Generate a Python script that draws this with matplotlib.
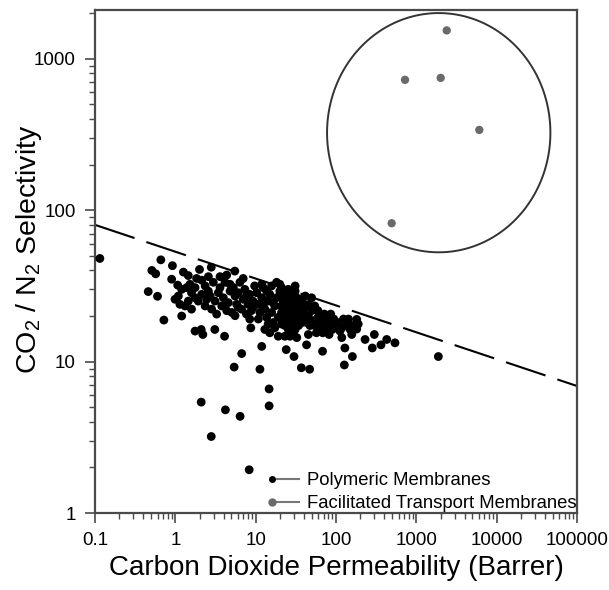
import numpy as np
import matplotlib
matplotlib.use("Agg")
import matplotlib.pyplot as plt
from matplotlib.lines import Line2D
from matplotlib.legend_handler import HandlerBase
from matplotlib.ticker import LogLocator, FixedLocator, FixedFormatter, NullFormatter

plt.rcParams['font.family'] = ['Liberation Sans', 'DejaVu Sans']
plt.rcParams['mathtext.fontset'] = 'custom'
plt.rcParams['mathtext.rm'] = 'Liberation Sans'
plt.rcParams['mathtext.it'] = 'Liberation Sans'

# ---------------- data ----------------
poly_perm = [
    0.115, 0.66, 0.92, 0.51, 0.57, 0.46, 0.60, 0.72, 1.2, 0.90, 1.07, 1.26, 1.45,
    2.0, 2.8, 5.5, 1.76, 2.1, 2.2, 3.1, 4.1, 6.7, 5.4, 11.3, 11.9, 8.7, 14.7, 14.7,
    2.1, 4.2, 6.4, 2.8, 8.3, 30, 24, 37, 47, 43, 68, 127, 160, 129, 118,
    230, 300, 283, 363, 428, 542, 181, 181, 1880, 45, 21, 25.5,
    # x ~ 1-2
    0.99, 1.09, 1.20, 1.38, 1.52, 1.59, 1.76, 1.93, 1.14, 1.32, 1.59, 1.84, 2.13, 1.76, 1.45,
    # x ~ 2-5
    2.35, 2.58, 2.71, 2.97, 3.12, 3.43, 3.6, 3.78, 3.96, 4.15, 4.36, 4.57, 4.8, 2.35, 2.83,
    3.27, 2.58, 3.6, 4.36, 4.8, 5.04, 2.13, 2.46,
    # x ~ 5-10
    5.28, 5.54, 5.8, 6.08, 6.37, 6.67, 6.99, 7.33, 7.68, 8.05, 8.44, 8.84, 9.27, 9.71,
    5.54, 6.99, 6.08, 8.44, 7.68, 9.27,
    # x ~ 10-20
    10.3, 10.8, 11.3, 11.9, 12.4, 13.0, 13.7, 14.3, 15.0, 15.8, 16.5, 17.3, 18.2, 19.1, 20.0,
    10.8, 13.0, 15.0, 17.3, 19.1, 11.9, 15.8, 18.2, 13.7, 16.5, 14.3, 12.4,
    # x ~ 20-40
    21.0, 22.0, 23.1, 24.3, 25.5, 26.8, 28.1, 29.5, 31.0, 32.5, 34.2, 35.9, 37.6, 21.0, 22.0,
    23.1, 25.5, 28.1, 31.0, 34.2, 37.6, 24.3, 28.1, 32.5, 23.1, 26.8, 29.5, 31.0, 35.9, 22.0,
    25.5, 28.1, 34.2, 39.5, 21.0, 24.3, 29.5, 32.5, 26.8, 23.1, 37.6, 31.0, 25.5, 22.0, 34.2,
    39.5, 21.0, 28.1, 24.3, 31.0,
    # x ~ 40-100
    41.4, 45.3, 49.7, 52.0, 54.4, 59.6, 62.4, 65.3, 71.6, 74.9, 78.5, 86, 90, 94, 47.4,
    57.0, 68.4, 82, 49.7, 54.4, 59.6, 71.6, 78.5, 43.2, 94, 45.3, 86, 65.3,
    # x ~ 100-200
    107, 118, 136, 150, 164, 143, 124, 189, 112, 157,
    # upper edge
    20.0, 31.0, 41.4,
]
poly_sel = [
    48, 47, 43, 40, 38, 29, 27, 18.8, 20, 35, 32, 39, 37,
    40.6, 42, 39.6, 15.9, 16.3, 15.1, 16.3, 14.7, 11.3, 9.2, 8.9, 12.6, 16.7, 6.6, 5.1,
    5.4, 4.8, 4.35, 3.2, 1.93, 10.8, 12, 9.1, 8.9, 12.9, 11.7, 9.5, 10.8, 12.3, 14.4,
    14, 15.1, 12.3, 12.9, 14, 13.3, 19, 16.4, 10.8, 23.8, 30.8, 28.5,
    # x ~ 1-2
    25.8, 27.1, 30.0, 30.8, 32.4, 28.5, 26.4, 25.1, 23.9, 23.3, 22.2, 35.4, 34.5, 30.8, 25.1,
    # x ~ 2-5
    31.6, 29.2, 27.1, 33.4, 25.1, 28.5, 30.8, 23.3, 26.4, 33.4, 21.7, 24.5, 29.2, 23.3, 22.2,
    20.6, 36.4, 36.4, 37.3, 32.4, 21.1, 27.8, 25.8,
    # x ~ 5-10
    30.8, 27.1, 23.9, 28.5, 33.4, 22.2, 25.8, 30.0, 20.6, 23.9, 27.8, 21.7, 25.1, 31.6,
    20.1, 35.4, 22.8, 19.1, 27.1, 22.8,
    # x ~ 10-20
    28.5, 23.9, 21.1, 26.4, 30.8, 22.2, 19.6, 25.1, 27.8, 21.1, 18.1, 23.3, 26.4, 19.6, 29.2,
    19.1, 16.3, 15.5, 16.7, 14.7, 32.4, 31.6, 33.4, 29.2, 24.5, 17.7, 23.3,
    # x ~ 20-40
    27.1, 24.5, 22.2, 20.1, 25.8, 23.3, 21.1, 19.1, 24.5, 22.2, 20.1, 23.3, 21.1, 21.1, 18.6,
    17.3, 16.3, 17.7, 16.3, 17.3, 18.1, 28.5, 27.8, 26.4, 25.1, 20.6, 22.2, 20.1, 19.1, 21.7,
    22.8, 24.5, 25.1, 22.2, 23.3, 18.1, 15.1, 14.4, 14.7, 14.7, 25.8, 29.2, 30.0, 19.6, 21.7,
    19.6, 17.7, 19.6, 23.9, 18.1,
    # x ~ 40-100
    23.3, 20.1, 21.7, 18.6, 17.3, 19.6, 18.1, 16.3, 17.7, 19.1, 16.7, 18.1, 16.3, 17.3, 17.3,
    15.5, 15.5, 15.1, 26.4, 23.3, 21.7, 20.6, 19.6, 18.1, 19.1, 15.1, 20.6, 20.1,
    # x ~ 100-200
    18.1, 16.7, 17.7, 16.3, 17.3, 19.1, 19.1, 17.7, 15.9, 15.1,
    # upper edge
    32.4, 31.6, 27.1,
]

ftm_perm = [2390, 723, 2010, 6080, 493]
ftm_sel = [1540, 726, 748, 339, 82]

bound_perm = [0.1, 100000]
bound_sel = [80, 6.9]

# circle drawn around the facilitated transport data (log-space ellipse)
circle_center = (1900, 325)
circle_half_decades = (1.39, 0.79)

x_ticks = [0.1, 1, 10, 100, 1000, 10000, 100000]
x_tick_labels = ['0.1', '1', '10', '100', '1000', '10000', '100000']
y_ticks = [1, 10, 100, 1000]
y_tick_labels = ['1', '10', '100', '1000']

legend_labels = ['Polymeric Membranes', 'Facilitated Transport Membranes']

# ---------------- figure ----------------
fig = plt.figure(figsize=(6.09, 5.90), dpi=100)
ax = fig.add_axes([95 / 609, 77 / 590, 482 / 609, 503 / 590])
ax.set_xscale('log')
ax.set_yscale('log')
ax.set_xlim(0.1, 100000)
ax.set_ylim(1, 2100)

ax.plot(bound_perm, bound_sel, color='black', lw=1.5, dashes=(20, 6), zorder=2)

ax.scatter(poly_perm, poly_sel, s=40, color='black', edgecolors='none', zorder=3)
ax.scatter(ftm_perm, ftm_sel, s=36, color='#6a6a6a', edgecolors='none', zorder=3)

t = np.linspace(0, 2 * np.pi, 500, endpoint=False)
lx = np.log10(circle_center[0]) + circle_half_decades[0] * np.cos(t)
ly = np.log10(circle_center[1]) + circle_half_decades[1] * np.sin(t)
ax.fill(10 ** lx, 10 ** ly, fill=False, edgecolor='#333333', lw=1.4, zorder=2)

spine_col = '#4a4a4a'
for sp in ax.spines.values():
    sp.set_color(spine_col)
    sp.set_linewidth(1.6)

ax.xaxis.set_major_locator(FixedLocator(x_ticks))
ax.xaxis.set_major_formatter(FixedFormatter(x_tick_labels))
ax.yaxis.set_major_locator(FixedLocator(y_ticks))
ax.yaxis.set_major_formatter(FixedFormatter(y_tick_labels))
ax.xaxis.set_minor_locator(LogLocator(base=10, subs=np.arange(2, 10), numticks=100))
ax.yaxis.set_minor_locator(LogLocator(base=10, subs=np.arange(2, 10), numticks=100))
ax.xaxis.set_minor_formatter(NullFormatter())
ax.yaxis.set_minor_formatter(NullFormatter())
ax.tick_params(which='major', direction='out', length=7, width=1.2, color=spine_col,
               labelsize=13.5, pad=7, top=False, right=False)
ax.tick_params(which='minor', direction='out', length=4, width=1.0, color=spine_col,
               top=False, right=False)

ax.set_xlabel('Carbon Dioxide Permeability (Barrer)', fontsize=20, labelpad=4)
ax.set_ylabel('CO$_2$ / N$_2$ Selectivity', fontsize=20.5)
ax.yaxis.set_label_coords(-0.105, 0.525)


class MarkerLeftHandler(HandlerBase):
    def __init__(self, mcolor, ms, **kw):
        super().__init__(**kw)
        self.mcolor = mcolor
        self.ms = ms

    def create_artists(self, legend, orig_handle, xdescent, ydescent, width, height,
                       fontsize, trans):
        x0 = -xdescent
        y0 = -ydescent + height / 2
        line = Line2D([x0 + width * 0.3, x0 + width], [y0, y0], color='#777777', lw=1.5)
        mk = Line2D([x0 + width * 0.14], [y0], marker='o', color=self.mcolor,
                    markersize=self.ms, linestyle='none')
        line.set_transform(trans)
        mk.set_transform(trans)
        return [line, mk]


h1 = Line2D([], [], color='black')
h2 = Line2D([], [], color='#6a6a6a')
leg = ax.legend([h1, h2], legend_labels, loc='lower left', bbox_to_anchor=(0.355, 0.0),
                frameon=False, fontsize=13.3, handlelength=1.75, handletextpad=0.4,
                labelspacing=0.33, borderpad=0.05, borderaxespad=0,
                handler_map={h1: MarkerLeftHandler('black', 4.0),
                             h2: MarkerLeftHandler('#6a6a6a', 5.0)})

fig.savefig('out.png', dpi=100)
